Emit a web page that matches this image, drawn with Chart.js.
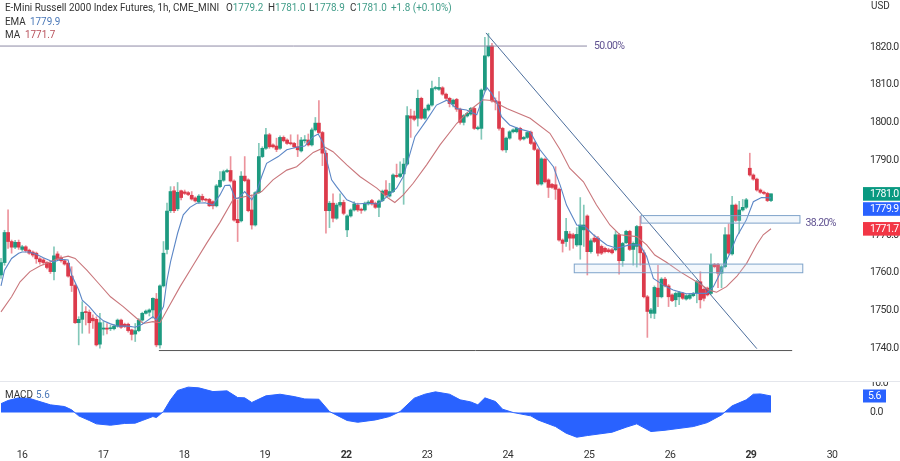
<!DOCTYPE html>
<html><head><meta charset="utf-8">
<script src="https://cdn.jsdelivr.net/npm/chart.js@4"></script>
<style>
html,body{margin:0;padding:0;background:#fff;width:900px;height:461px;overflow:hidden}
body{position:relative;font-family:Roboto,sans-serif;color:#333}
canvas{position:absolute;left:0;filter:blur(.3px)}
#c1{top:0}#c2{top:381px}
.t{position:absolute;font-size:11.5px;line-height:14px;white-space:pre;transform:scaleX(.86);transform-origin:left center}
.up{color:#3f9c88}.ema{color:#4a78b8}.ma{color:#b8505a}
#sep{position:absolute;left:0;top:381px;width:900px;height:1px;background:#e4e6ec;z-index:2}
</style></head><body>
<canvas id="c1" width="900" height="381"></canvas>
<canvas id="c2" width="900" height="80"></canvas>
<div id="sep"></div>
<div class="t" style="left:5px;top:0px">E-Mini Russell 2000 Index Futures, 1h, CME_MINI</div>
<div class="t" style="left:226px;top:0px">O<span class="up">1779.2</span></div>
<div class="t" style="left:268px;top:0px">H<span class="up">1781.0</span></div>
<div class="t" style="left:309px;top:0px">L<span class="up">1778.9</span></div>
<div class="t" style="left:350px;top:0px">C<span class="up">1781.0</span></div>
<div class="t up" style="left:391px;top:0px">+1.8 (+0.10%)</div>
<div class="t" style="left:5px;top:14px">EMA</div><div class="t ema" style="left:30px;top:14px">1779.9</div>
<div class="t" style="left:5px;top:27px">MA</div><div class="t ma" style="left:25px;top:27px">1771.7</div>
<div class="t" style="left:871px;top:-2px">USD</div>
<div class="t" style="left:5px;top:387px">MACD</div><div class="t ema" style="left:36px;top:387px">5.6</div>
<script>
const opens=[1759.4,1762.7,1770.7,1768.3,1766.8,1768.1,1766.2,1766.9,1766,1765.5,1765.2,1763.7,1763.4,1762.7,1762.5,1760.3,1765,1764,1763.2,1762.5,1759.1,1756.6,1746.7,1747.6,1749.6,1749.5,1747.9,1747.6,1741,1745,1745.2,1745.1,1745.1,1745.8,1747.4,1746.3,1746.3,1744.8,1743.7,1744.6,1747.4,1749.2,1749.5,1750.1,1753,1740.8,1756.5,1766.2,1776.5,1781.8,1777,1781.8,1781.5,1781.3,1780.6,1779.9,1778.8,1780.3,1779.5,1779.5,1778.9,1777.8,1782.9,1784.6,1786.9,1787.2,1784.4,1774.2,1773.8,1785.7,1784.7,1776.7,1772.7,1781.3,1790.9,1793.1,1796.7,1794,1793.7,1793.1,1796,1795.3,1794.6,1794.4,1793.5,1792.4,1795.1,1795.3,1794,1798,1799.8,1797.3,1791.8,1776.5,1778.5,1774.5,1778,1778.7,1771.4,1775.1,1776.7,1778,1776.9,1776.7,1778.3,1779.2,1778.5,1777.4,1779.2,1782,1780.4,1781.6,1785.9,1785.6,1786.3,1788.9,1801.7,1801.7,1801.1,1806.4,1801.1,1803.3,1804.6,1809,1808.8,1809.2,1807.5,1806.4,1804.9,1806.1,1803.5,1800,1801.7,1802.2,1803.7,1798.3,1798.4,1808.6,1817.7,1820.3,1805.7,1805.5,1798.4,1792.7,1795.8,1797.5,1797.5,1798.4,1795.6,1796,1797.4,1794.6,1792.7,1783.6,1790.2,1784.7,1783.5,1783.4,1782.2,1768.7,1768.3,1770.3,1770.1,1767.4,1767.4,1771.4,1775.1,1765.6,1769.2,1769.2,1767,1766.5,1766.1,1766.1,1766.1,1770.1,1763.2,1768,1771,1766.2,1767,1772.3,1765.3,1753.6,1749.2,1749.2,1755.9,1753.6,1758.3,1756.5,1754.1,1752.8,1753.6,1754.5,1753,1753.2,1753.9,1754.5,1757.6,1755.6,1755.9,1754.5,1762.2,1762.2,1759.9,1761.6,1770.1,1765,1778,1773.9,1776.7,1777.4,1787.8,1786,1784.9,1782,1781.4,1781.1,1779.2];
const highs=[1763.8,1771.3,1776.7,1768.7,1768.6,1768.7,1767.3,1767.2,1766.3,1765.8,1765.5,1764,1763.8,1763,1763,1766.9,1765.6,1764.5,1763.5,1762.8,1761.6,1757,1748.3,1752.3,1751,1750.1,1748.8,1748.3,1749.2,1747,1746.5,1746,1746.2,1747.7,1747.7,1746.6,1746.6,1745,1746.5,1747.8,1749.5,1750.1,1750.4,1753.3,1754.5,1756.8,1768.3,1778.5,1782.9,1782.9,1784,1782,1782,1781.6,1781.6,1780.2,1780.8,1780.9,1779.8,1779.8,1779.1,1783.5,1786.9,1787.3,1787.6,1790.9,1784.7,1779.4,1786.9,1790.9,1785,1780.7,1781.6,1794.4,1793.5,1798.4,1797.1,1794.3,1795.8,1796.4,1796.4,1795.6,1796.7,1794.7,1796.7,1796,1796.5,1796.9,1798.5,1801.3,1805.8,1797.6,1792.5,1779,1781,1778.5,1781,1779.3,1775.4,1777,1778.9,1778.5,1777.2,1778.8,1779.2,1779.5,1778.8,1779.4,1782,1784.5,1783.8,1786.3,1788.9,1789.5,1790.4,1804.2,1803.5,1803,1808.6,1806.7,1803.8,1804.9,1811,1809.6,1812,1809.5,1807.8,1806.7,1806.2,1806.4,1803.8,1802.1,1802.7,1804,1804,1799,1808.9,1822.6,1823.7,1821,1806.5,1808.2,1798.7,1796.1,1797.8,1798.3,1798.7,1798.7,1796.3,1797.6,1797.7,1794.9,1793,1790.6,1790.5,1785,1783.8,1788.2,1782.5,1769,1774.5,1771,1770.5,1772,1780,1778,1775.4,1769,1770.1,1769.7,1767.4,1766.8,1766.5,1766.5,1771,1770.5,1768.1,1771.3,1771.3,1768.2,1772.6,1775,1766,1754,1750.5,1756.5,1762,1758.7,1758.8,1756.9,1754.4,1754.9,1755,1754.8,1754.2,1754.4,1754.8,1758,1760.3,1756,1756.2,1765,1762.5,1762.5,1762,1772,1773,1780.3,1778.3,1779,1779.5,1779.8,1791.8,1786.3,1785.2,1782.3,1781.7,1781.4,1781];
const lows=[1758.5,1762,1766.5,1765.2,1766.4,1766.2,1765.8,1765.5,1764.9,1764.2,1762.5,1762.3,1762.1,1761,1759.8,1758.1,1763.4,1762.8,1762,1758.8,1755,1746.5,1740.8,1743.9,1746.1,1743.9,1745.2,1740.5,1739.9,1743.4,1743.7,1744.6,1744.8,1745.5,1745.2,1745.4,1744.2,1742.1,1741.7,1744.3,1747.1,1749,1748.5,1747.9,1740.3,1739.9,1756.2,1765,1776,1776,1776.5,1779.4,1780.8,1780.5,1779.3,1778.8,1778.5,1779,1779,1777.6,1777,1777.5,1782.6,1784.3,1786.6,1784.1,1773.7,1768.3,1773.5,1784.2,1776.2,1771.6,1772.4,1781,1790.6,1792.8,1793.1,1793.2,1792.2,1792.8,1794.8,1794.1,1794,1793.2,1790.9,1792.1,1794.5,1793.7,1793.7,1797.7,1797,1788.5,1770.5,1772,1773.5,1774.2,1777.5,1775.4,1769.6,1774.8,1776.4,1776.3,1775.8,1776.4,1778,1778,1777.1,1774.9,1778.9,1780.3,1780.1,1781.3,1785.3,1785.3,1778.2,1788.6,1796,1800.4,1799,1800.8,1800.8,1803,1804.3,1808.6,1808.5,1807.2,1806.1,1804.1,1804.1,1802.9,1799.5,1799.3,1801.4,1801.9,1798.1,1798,1795.5,1808.3,1817.4,1805.4,1803.3,1797.9,1792.4,1792,1795.5,1797.2,1797.2,1795.1,1795.3,1795.7,1794.1,1792.5,1783.3,1783.3,1783.9,1780,1782.4,1779.5,1768.4,1765.5,1767,1766,1766.5,1767,1763.6,1767,1759.4,1765.2,1768,1764.5,1764.8,1765.3,1765.3,1765,1765.8,1759.6,1761.7,1767.7,1765.9,1762,1761.5,1762,1753.3,1742.8,1748,1747.8,1751,1753.3,1756.2,1751,1752.3,1751,1751.5,1752.9,1752.7,1752.9,1753.6,1752,1750.6,1752.5,1753.8,1754.2,1761.3,1756,1756,1761.3,1764.9,1764.7,1773.6,1770.5,1776.4,1777,1785.7,1784.6,1781.7,1781.1,1780.8,1778.9,1778.9];
const closes=[1762.7,1770.7,1768.3,1766.8,1768.1,1766.8,1766.9,1765.9,1765.2,1764.7,1763.7,1762.9,1762.7,1761.4,1760.3,1764.5,1763.6,1763.2,1762.3,1759.1,1756.6,1746.7,1747.6,1749.5,1749.4,1746.7,1747.2,1740.8,1746.7,1745.3,1745,1745.3,1745.8,1747.4,1745.5,1745.7,1744.6,1743.6,1744.6,1747.4,1749.2,1749.8,1750.1,1753.2,1740.8,1756.5,1765.2,1776.4,1781.6,1776.5,1781.4,1780,1781.1,1780.8,1779.6,1779.1,1780.4,1779.4,1779.3,1777.8,1777.8,1783.1,1784.6,1786.9,1787.2,1784.4,1774,1773.3,1785.7,1784.5,1776.5,1772.7,1781.3,1790.9,1793.1,1796.7,1793.5,1793.5,1792.8,1796,1795.1,1794.4,1794.3,1793.5,1792.7,1795.3,1795.3,1794,1798,1799.8,1797.3,1791.8,1776.5,1778.5,1774.5,1778,1778.7,1775.8,1775.1,1776.7,1778.3,1776.7,1776.6,1778.5,1778.8,1778.3,1777.4,1779.1,1781.7,1780.7,1781.6,1786,1785.6,1786.3,1788.9,1801.8,1801.1,1800.8,1806.4,1801.1,1803.5,1804.6,1809,1809.1,1809.3,1807.5,1806.4,1805,1805.9,1803.5,1800,1801.8,1802.4,1803.7,1798.4,1798.6,1808.6,1817.7,1820.3,1805.7,1805.5,1798.4,1792.7,1795.8,1797.5,1798,1798.4,1795.5,1796,1797.3,1794.4,1792.8,1783.6,1790.3,1784.2,1782.7,1782.7,1782.2,1768.7,1767.8,1771,1769.2,1769.2,1770.2,1772.7,1772.7,1765.6,1768.5,1768.3,1765.2,1765.2,1765.6,1765.6,1765.3,1770.1,1763.2,1767.8,1771,1766.2,1767.8,1772.3,1765.3,1753.6,1749.7,1750.1,1756.1,1753.6,1758.3,1756.5,1753.6,1752.6,1754.5,1754.7,1753.2,1753.9,1754.1,1754.5,1757.6,1752.8,1753.2,1754.1,1762.2,1761.6,1759.9,1761.6,1770.1,1765.2,1778,1773.9,1776.7,1777.4,1779.4,1786,1784.9,1782,1781.4,1781.1,1779.2,1781];
const emaBars=[0,1,3,5,6,8,10,12,14,15,17,19,20,22,23,25,27,29,31,33,36,38,40,41,43,44,46,47,48,50,51.6,53.5,55.4,57.8,60,62,63.4,64.8,66.3,67.2,69,71,72.4,73.8,75.2,78.5,80.9,83.7,86,88.4,89.8,91.3,92.2,93.6,95,97.9,100.7,103.5,106.8,109.2,112,113.9,117.2,120.5,123.3,126.2,129,131.8,134.7,136,137.5,138.9,140.3,141.7,144,146.9,149.8,152.6,156.4,158.3,160.1,163,165.3,167.7,171.5,174.3,178,180.9,182.8,184.7,187.5,190.3,194.1,197,199.8,201.7,204.5,206.4,208.3,211,213,215.3,218];
const ema=[1756.5,1760.7,1763.8,1765.2,1765.5,1765.5,1764.9,1764,1763.2,1762.9,1763.6,1763.4,1759.4,1755.4,1752.7,1751,1748.8,1747.2,1746.4,1745.8,1745.8,1745.5,1746.3,1747,1748.3,1747.4,1751,1758,1762.9,1770.5,1775.4,1777.4,1778.5,1778.6,1778,1780.7,1783.2,1783.3,1779.8,1779.8,1781.6,1779.4,1781.6,1785.6,1789.1,1790.9,1792.7,1793.4,1793.7,1796.2,1796.9,1794.4,1790,1784.7,1782.9,1779.4,1778.3,1778.5,1778.3,1780.2,1782.5,1785.6,1796.2,1800.6,1804.6,1805.9,1803.7,1803.3,1802,1805.5,1809.3,1807.7,1805.5,1801.5,1799.3,1798.2,1797.5,1792.7,1788.2,1783.3,1778,1772.7,1772.3,1770.1,1767.4,1766.5,1767.4,1767.4,1764.3,1758.5,1756.7,1755.4,1754.4,1754.5,1754.5,1756.3,1761.6,1765.2,1769.6,1774,1778.9,1780,1779.9];
const maBars=[0,3,5.4,8.2,11,14,16.2,19,21,24.3,27.6,31,34.6,38.4,40.3,43,45,47,50.7,54.4,58.2,62,65.8,71.4,73.8,77,80.9,83.7,88.4,91.7,94,97.9,101.6,106.4,109.7,111.5,113.9,116.7,120.5,124.3,129,132.8,136.5,138.9,143.2,149.8,155.4,158.3,161,164.9,168.6,172.4,175.2,180,182.8,185.1,188.4,192.2,196.9,200.7,202.6,205.4,208.3,211.1,213.9,215.8,218];
const ma=[1749.6,1753.6,1757.6,1760.3,1761.8,1762.9,1763.8,1764.4,1763.8,1760.7,1757.2,1753.6,1751,1747.9,1746.5,1747,1746.7,1750.1,1756.3,1762,1767.8,1773.4,1779.6,1780.7,1781.6,1784.7,1787.3,1788.2,1792,1793.4,1792.2,1788.7,1785.6,1782.5,1779.8,1778.7,1780.7,1783.8,1788.7,1794,1799.7,1803.3,1806,1805.8,1803.7,1801.1,1797.1,1792.7,1787.8,1784.2,1778,1772.7,1770.1,1769.6,1767.4,1764.7,1762.8,1760.3,1757.6,1755.3,1754.8,1756.3,1759,1762.5,1767.4,1770.1,1771.7];
const macdBars=[0,2,5,8,10,14,18,20,22,25,27,31,35,38,40,43,44,46,48,50,53,56,60,64,67,69,71,75,79,83,86,90,93,98,101,106,110,113,117,120,123,127,130,133,135,137,140,142,145,150,152,157,160,163,166,173,177,180,184,188,196,200,204,207,211,213,215,218];
const macd=[3,4.07,4.97,4.8,4.07,2.6,2.03,0.9,-1.13,-2.7,-3.84,-4.3,-3.7,-3.6,-2.7,-1.36,-1.7,0.34,4.3,7.46,8.6,8.36,7.1,7.34,5.08,4.97,3.4,5.65,6.2,5.4,4.6,4.5,0.34,-2.7,-3.3,-2.5,-1.36,0.34,4.86,6.2,7,6.2,4.3,3.6,2.6,4.97,3.73,1.13,0,-1.13,-2.5,-4.75,-7,-8.36,-7.8,-6.67,-4.97,-3.84,-6.44,-6,-4.75,-3.4,-0.8,2.26,4.3,6.2,6.3,5.6];
const dayLabels=['16','17','18','19','22','23','24','25','26','29','30'];
const dayBars=[5.95,28.9,51.8,74.7,97.7,120.6,143.5,166.5,189.4,212.3,235.3];
const boldDays=['22','29'];
const priceTicks=[1740,1750,1760,1770,1780,1790,1800,1810,1820];
const macdTicks=[0,10];
const fib50Bars=[-0.3,165.9], fib50Price=[1820.3,1820.3];
const trendBars=[137.3,214], trendPrice=[1823.8,1739.8];
const baseBars=[44.7,224], basePrice=[1739.3,1739.3];
const boxUpper={bars:[181.2,226.2],prices:[1775.2,1773.2]};
const boxLower={bars:[162.3,227],prices:[1762.3,1760]};
const lastChips=[{v:1781.0,t:'1781.0',c:'#089981',dy:0},{v:1779.9,t:'1779.9',c:'#2962ff',dy:11},{v:1771.7,t:'1771.7',c:'#f23645',dy:0}];

const FONT='Roboto,sans-serif';
const SPACING='-0.6px';
const up='#1d9a80',dn='#dc3a4b',upW='rgba(29,154,128,.55)',dnW='rgba(220,58,75,.55)';
const xMin=-0.283,xMax=243.2;
const pts=(a,b)=>a.map((x,i)=>({x,y:b[i]}));
const line=(data,color,w)=>({type:'line',data,borderColor:color,borderWidth:w,pointRadius:0,fill:false,tension:0,order:0});
const isUp=i=>closes[i]>=opens[i];
const tight={id:'tight',beforeDraw(ch){ch.ctx.letterSpacing=SPACING;}};
const fitY=s=>{s.width=40;s.paddingTop=0;s.paddingBottom=0;};
const overlays={id:'overlays',afterDatasetsDraw(ch){
  const {ctx,scales:{x,y}}=ch;
  ctx.save();
  [boxUpper,boxLower].forEach(b=>{
    const l=x.getPixelForValue(b.bars[0]),r=x.getPixelForValue(b.bars[1]),t=y.getPixelForValue(b.prices[0]),m=y.getPixelForValue(b.prices[1]);
    ctx.fillStyle='rgba(195,218,240,.22)';ctx.fillRect(l,t,r-l,m-t);
    ctx.strokeStyle='#7ea3ca';ctx.lineWidth=1;ctx.strokeRect(l,t,r-l,m-t);
  });
  ctx.font='10.5px '+FONT;ctx.fillStyle='#5f5190';ctx.textBaseline='middle';ctx.textAlign='left';
  ctx.fillText('50.00%',x.getPixelForValue(fib50Bars[1])+7,y.getPixelForValue(fib50Price[0]));
  ctx.fillText('38.20%',x.getPixelForValue(boxUpper.bars[1])+5.5,y.getPixelForValue(boxUpper.prices[1]));
  ctx.font='10.5px '+FONT;
  lastChips.forEach(c=>{
    const py=y.getPixelForValue(c.v)+c.dy;
    ctx.fillStyle=c.c;ctx.fillRect(863,py-6.7,37,13.6);
    ctx.fillStyle='#fff';ctx.fillText(c.t,870,py+.3);
  });
  ctx.restore();
}};
new Chart(document.getElementById('c1'),{
  type:'bar',
  data:{datasets:[
    {label:'wick',data:opens.map((_,i)=>({x:i,y:[lows[i],highs[i]]})),backgroundColor:opens.map((_,i)=>isUp(i)?upW:dnW),barThickness:1,grouped:false,order:3},
    {label:'body',data:opens.map((o,i)=>({x:i,y:[o,closes[i]]})),backgroundColor:opens.map((_,i)=>isUp(i)?up:dn),barThickness:3.1,minBarLength:1,grouped:false,order:2},
    line(pts(emaBars,ema),'#5b86c6',1.1),
    line(pts(maBars,ma),'#c9767b',1.1),
    line(pts(fib50Bars,fib50Price),'#8e8aa6',1),
    line(pts(trendBars,trendPrice),'#4b6d9c',1),
    line(pts(baseBars,basePrice),'#555555',1)
  ]},
  options:{animation:false,responsive:false,devicePixelRatio:1,layout:{padding:0},
    plugins:{legend:{display:false},tooltip:{enabled:false}},
    scales:{
      x:{type:'linear',display:false,min:xMin,max:xMax,offset:false,grid:{display:false}},
      y:{position:'right',min:1731.2,max:1832.55,grid:{display:false,drawTicks:false},border:{display:false},
        afterBuildTicks:s=>{s.ticks=priceTicks.map(value=>({value}));},
        afterFit:fitY,
        ticks:{padding:10,color:'#333',font:{family:FONT,size:10.5},callback:v=>v.toFixed(1)}}
    }},
  plugins:[tight,overlays]
});
const macdChip={id:'macdChip',afterDatasetsDraw(ch){
  const {ctx,scales:{y}}=ch;const v=macd[macd.length-1],py=y.getPixelForValue(v);
  ctx.save();ctx.fillStyle='#2962ff';ctx.fillRect(863,py-6.5,23,13);
  ctx.fillStyle='#fff';ctx.font='10.5px '+FONT;ctx.textBaseline='middle';ctx.fillText(v.toFixed(1),868,py+.3);ctx.restore();
}};
new Chart(document.getElementById('c2'),{
  type:'line',
  data:{datasets:[{data:pts(macdBars,macd),borderColor:'#2962ff',backgroundColor:'#2962ff',borderWidth:1,pointRadius:0,fill:'origin',tension:0}]},
  options:{animation:false,responsive:false,devicePixelRatio:1,layout:{padding:0},
    plugins:{legend:{display:false},tooltip:{enabled:false}},
    scales:{
      x:{type:'linear',min:xMin,max:xMax,offset:false,grid:{display:false,drawTicks:false},border:{display:false},
        afterBuildTicks:s=>{s.ticks=dayBars.map(value=>({value}));},
        afterFit:s=>{s.height=16;s.paddingLeft=0;s.paddingRight=0;},
        ticks:{autoSkip:false,maxRotation:0,padding:4,color:'#333',
          callback:v=>dayLabels[dayBars.indexOf(v)],
          font:c=>({family:FONT,size:10.5,weight:boldDays.includes(dayLabels[dayBars.indexOf(c.tick&&c.tick.value)])?'bold':'normal'})}},
      y:{position:'right',min:-11,max:10.68,grid:{display:false,drawTicks:false},border:{display:false},
        afterBuildTicks:s=>{s.ticks=macdTicks.map(value=>({value}));},
        afterFit:fitY,
        ticks:{padding:10,color:'#333',font:{family:FONT,size:10.5},callback:v=>v.toFixed(1)}}
    }},
  plugins:[tight,macdChip]
});
</script>
</body></html>
